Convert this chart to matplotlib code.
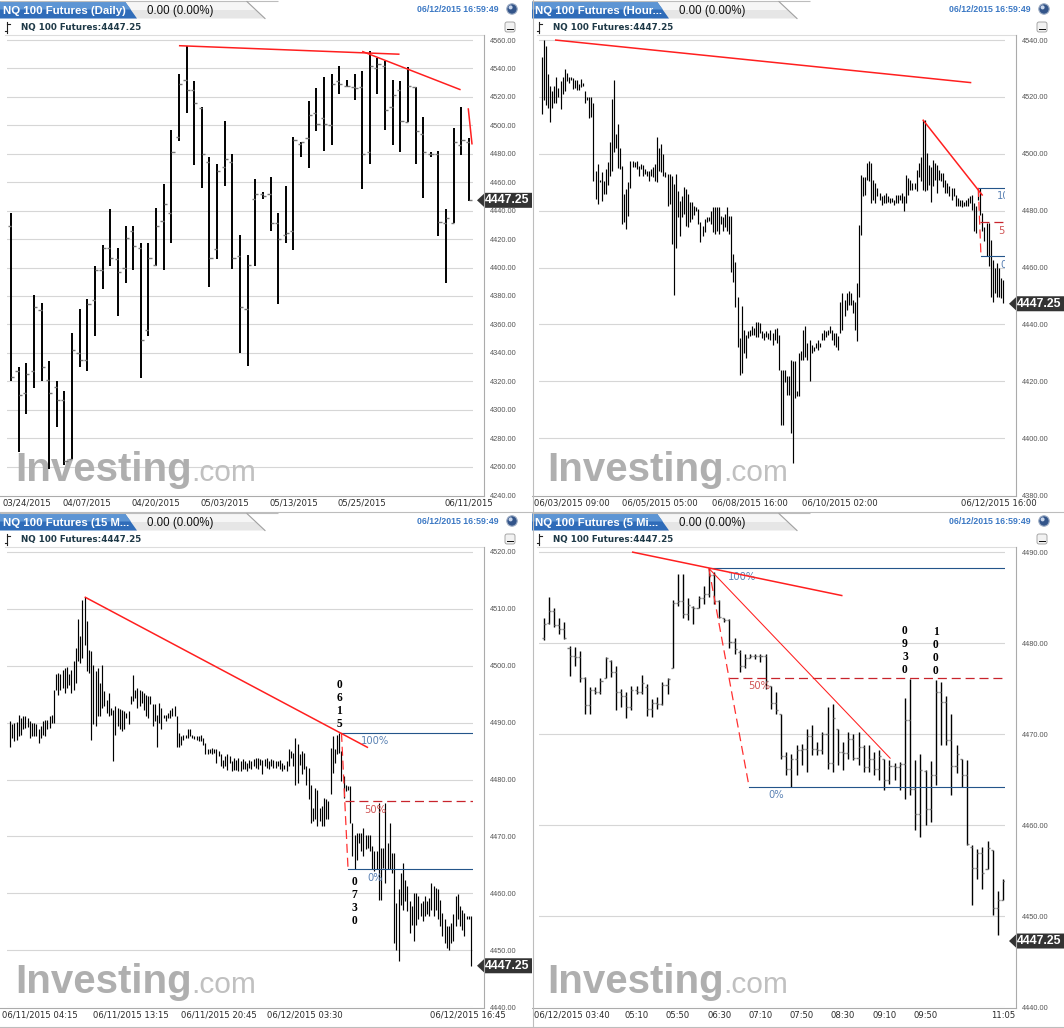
import numpy as np
import matplotlib.pyplot as plt
from matplotlib import transforms
from matplotlib.collections import LineCollection
from matplotlib.patches import Polygon, Circle, Rectangle, FancyBboxPatch

plt.rcParams['lines.scale_dashes'] = False

LAST = 4447.25
STAMP = '06/12/2015 16:59:49'

# ---------------- daily bars ----------------
daily_high = [4438, 4330, 4333, 4381, 4375, 4334, 4320, 4313, 4354, 4371,
              4378, 4401, 4416, 4441, 4414, 4429, 4429, 4417, 4417, 4442,
              4459, 4497, 4536, 4556, 4531, 4513, 4478, 4473, 4503, 4480,
              4423, 4409, 4462, 4453, 4464, 4438, 4457, 4492, 4488, 4517,
              4526, 4534, 4536, 4542, 4532, 4536, 4538, 4552, 4547, 4545,
              4532, 4531, 4541, 4527, 4506, 4481, 4482, 4441, 4498, 4513,
              4491]
daily_low = [4320, 4270, 4297, 4315, 4320, 4258, 4288, 4261, 4265, 4330,
             4327, 4352, 4385, 4401, 4366, 4389, 4398, 4322, 4352, 4401,
             4398, 4417, 4489, 4509, 4472, 4456, 4386, 4406, 4457, 4399,
             4340, 4331, 4401, 4448, 4426, 4374, 4417, 4412, 4478, 4470,
             4496, 4482, 4486, 4522, 4527, 4518, 4455, 4473, 4522, 4497,
             4486, 4481, 4502, 4473, 4449, 4478, 4422, 4389, 4431, 4479,
             4447]
daily_open = [4429, 4327, 4312, 4327, 4370, 4321, 4316, 4307, 4265, 4340,
              4335, 4377, 4398, 4414, 4406, 4400, 4426, 4414, 4356, 4402,
              4433, 4438, 4492, 4532, 4525, 4512, 4474, 4413, 4471, 4474,
              4408, 4371, 4448, 4452, 4452, 4431, 4423, 4426, 4487, 4491,
              4509, 4505, 4500, 4531, 4528, 4527, 4527, 4481, 4540, 4542,
              4513, 4525, 4502, 4527, 4494, 4480, 4480, 4431, 4431, 4486,
              4488]
daily_close = [4323, 4310, 4325, 4372, 4330, 4312, 4307, 4264, 4342, 4335,
               4374, 4398, 4414, 4407, 4397, 4421, 4415, 4349, 4407, 4429,
               4445, 4481, 4529, 4525, 4516, 4480, 4407, 4468, 4476, 4407,
               4372, 4402, 4452, 4450, 4431, 4420, 4424, 4490, 4488, 4507,
               4501, 4501, 4529, 4529, 4528, 4526, 4480, 4542, 4543, 4511,
               4521, 4503, 4528, 4496, 4481, 4480, 4432, 4435, 4488, 4490,
               4447.25]
daily_ticks = [10, 19, 28, 37, 46, 60]
daily_labels = ['04/07/2015', '04/20/2015', '05/03/2015', '05/13/2015', '05/25/2015', '06/11/2015']
daily_first = '03/24/2015'
daily_trends = [[(22, 4556), (50.9, 4550)], [(46, 4552), (58.9, 4525)], [(59.9, 4512), (60.4, 4486.5)]]

# ---------------- hourly bars ----------------
hourly_high = [4534, 4540, 4538, 4528, 4524, 4522, 4524, 4527, 4523, 4525.6,
               4527, 4529.7, 4528.5, 4527, 4527, 4526.8, 4526, 4525.8, 4524.7, 4526.2,
               4525, 4522, 4520, 4520, 4520, 4518, 4494, 4496.4, 4490.8, 4493.5,
               4490.5, 4494.6, 4497, 4504, 4519.4, 4525.8, 4507, 4510.4, 4502, 4495.8,
               4486, 4487.6, 4490, 4497.5, 4497.5, 4497, 4497.5, 4495.8, 4496.4, 4496,
               4494.6, 4494, 4494, 4494.6, 4495.2, 4496.4, 4506, 4502, 4503.6, 4500,
               4493.5, 4493, 4492.9, 4492.3, 4489.4, 4492.9, 4487, 4483.5, 4485.3, 4488.2,
               4487.6, 4486, 4483, 4483, 4481.8, 4481.2, 4480.6, 4475.9, 4474.7, 4477,
               4477.7, 4477.7, 4480, 4481.2, 4481.2, 4481.2, 4481.4, 4478.2, 4477.7, 4478.8,
               4481.2, 4478.2, 4478.2, 4464.8, 4462, 4449.8, 4435.2, 4446.5, 4438, 4436.3,
               4437.5, 4438, 4439.3, 4438.7, 4441, 4440.7, 4440.4, 4437.5, 4436.9, 4437.5,
               4436.9, 4438, 4436.9, 4438.3, 4438.7, 4436.3, 4424, 4423.8, 4424, 4421.7,
               4421.7, 4427.5, 4427, 4427, 4416.4, 4429.9, 4430.5, 4438, 4439.3, 4433.4,
               4434.6, 4432.8, 4432.2, 4433.4, 4434.6, 4433.6, 4436.9, 4437.9, 4437.5, 4438,
               4439.3, 4438, 4436.9, 4436.9, 4435.8, 4448, 4451, 4448.6, 4451, 4451.6,
               4451, 4448.6, 4448, 4454.5, 4475, 4492.6, 4492, 4492, 4496.7, 4497.3,
               4496.7, 4490.9, 4489.7, 4487.9, 4486.2, 4485, 4485.6, 4486.2, 4485, 4484.4,
               4484.4, 4483.8, 4485.6, 4485.6, 4485.6, 4486.2, 4485, 4492.6, 4491.4, 4490.9,
               4489.7, 4489.7, 4494.4, 4496.7, 4499, 4512, 4512, 4500.2, 4496.1, 4495.5,
               4497.9, 4496.7, 4496.1, 4494.4, 4493.2, 4493.2, 4490.9, 4489.7, 4488.5, 4487.9,
               4487.9, 4485.6, 4484.4, 4483.8, 4483.8, 4483.2, 4483.8, 4484.4, 4485, 4485.6,
               4482.6, 4481.5, 4487.9, 4487.9, 4479.1, 4474.4, 4475.6, 4475.6, 4469.8, 4462.7,
               4459.8, 4461.5, 4459.8, 4456.3, 4455.7]
hourly_low = [4514, 4519, 4517, 4516, 4511, 4516, 4518, 4518, 4520, 4515.7,
              4521, 4522, 4525.6, 4524.8, 4525.8, 4522.7, 4523, 4522.3, 4522.3, 4523.3,
              4524, 4518, 4519, 4512.4, 4513, 4490.5, 4484, 4482.3, 4490, 4483.5,
              4486, 4486, 4489, 4492.3, 4494, 4500.5, 4502, 4495, 4494.6, 4475.3,
              4476, 4473.6, 4478, 4488, 4495.2, 4495.2, 4494.6, 4492.3, 4494.6, 4492.3,
              4492.9, 4492.3, 4490.5, 4492.3, 4491.7, 4490.5, 4490, 4494, 4493.5, 4492.3,
              4491.7, 4481.8, 4482.3, 4468.3, 4450.2, 4467, 4477.7, 4471.2, 4477.7, 4478.8,
              4474.7, 4474.4, 4475.9, 4477, 4478.6, 4480, 4475.3, 4469, 4471, 4472.4,
              4475.9, 4476.5, 4475.3, 4472.4, 4471.8, 4473, 4471.8, 4475.3, 4473, 4474.1,
              4473, 4471.8, 4458.4, 4454.9, 4446, 4432.2, 4422.3, 4422.9, 4430, 4428.1,
              4435.2, 4435.8, 4436.3, 4436.3, 4435.5, 4435.5, 4437, 4435.2, 4434.6, 4435.5,
              4434.8, 4434.6, 4432.8, 4434.6, 4433.4, 4424, 4404.7, 4404.7, 4419.9, 4415.2,
              4415.2, 4401.8, 4391.2, 4414, 4414.7, 4414.7, 4427.5, 4427.5, 4428.7, 4427.5,
              4420, 4429.9, 4430.5, 4431.7, 4431.1, 4432.2, 4434.6, 4434.6, 4435.5, 4436.3,
              4436.9, 4434.6, 4432.8, 4432.2, 4431.1, 4436.9, 4438.1, 4442.8, 4445.1, 4446.9,
              4446.9, 4444, 4438.1, 4434, 4449.8, 4471.5, 4485, 4485.6, 4490.9, 4490.3,
              4482.6, 4483.8, 4482.6, 4485, 4483.8, 4482.1, 4482.6, 4482.6, 4483.2, 4482.6,
              4483.2, 4482.1, 4482.6, 4482.6, 4483.8, 4482.6, 4479.7, 4482.6, 4485.6, 4487.3,
              4487.1, 4487.6, 4486.8, 4492, 4490.3, 4487.3, 4486.8, 4487.3, 4489.1, 4483.2,
              4488.5, 4490.9, 4486.2, 4490.9, 4490.3, 4488.3, 4486.2, 4486.2, 4485, 4483.8,
              4485, 4481.5, 4481.5, 4481.5, 4481.2, 4481.5, 4481.5, 4481.5, 4482.6, 4480.3,
              4472.7, 4472.1, 4483.8, 4478.5, 4472.7, 4469.2, 4463.9, 4460.4, 4449.8, 4448,
              4450.9, 4449.8, 4449.8, 4449.2, 4447.5]
hourly_ticks = [57.3, 101, 144.8, 222]
hourly_labels = ['06/05/2015 05:00', '06/08/2015 16:00', '06/10/2015 02:00', '06/12/2015 16:00']
hourly_first = '06/03/2015 09:00'
hourly_trends = [[(6.3, 4540), (208.6, 4525)], [(185, 4512), (214.1, 4485.3)]]
hourly_fib = [(212, 4488.0), (213.3, 4464.0)]

# ---------------- 15 minute bars ----------------
m15_high = [4490.2, 4489.7, 4490.0, 4490.1, 4491.4, 4490.8, 4491.2, 4491.2, 4490.8, 4490.2,
            4490.0, 4490.0, 4489.7, 4488.8, 4489.4, 4490.2, 4490.4, 4490.5, 4491.1, 4491.4,
            4495.8, 4498.5, 4498.7, 4498.5, 4499.3, 4499.6, 4499.7, 4498.5, 4499.3, 4500.8,
            4503.1, 4508.2, 4505.2, 4511.6, 4512.1, 4507.8, 4502.8, 4502.6, 4500.2, 4499.0,
            4499.6, 4497.0, 4500.2, 4495.5, 4494.0, 4495.2, 4492.6, 4492.3, 4492.9, 4492.6,
            4492.4, 4492.3, 4492.0, 4491.7, 4492.0, 4494.6, 4498.3, 4495.8, 4496.1, 4495.8,
            4495.5, 4495.2, 4494.9, 4494.6, 4494.6, 4493.2, 4493.2, 4491.4, 4493.5, 4492.6,
            4491.4, 4491.4, 4491.7, 4492.3, 4492.6, 4492.9, 4491.1, 4488.2, 4487.6, 4487.9,
            4487.9, 4488.9, 4488.8, 4487.9, 4487.6, 4487.6, 4487.7, 4487.9, 4487.3, 4486.4,
            4485.3, 4485.4, 4485.6, 4485.4, 4485.3, 4485.0, 4484.4, 4483.5, 4484.1, 4484.4,
            4484.1, 4483.2, 4483.8, 4483.5, 4483.8, 4483.2, 4483.6, 4483.2, 4482.9, 4483.5,
            4483.2, 4483.6, 4483.8, 4483.8, 4483.6, 4483.5, 4483.6, 4483.8, 4483.2, 4483.6,
            4483.5, 4483.2, 4483.2, 4483.5, 4482.9, 4482.6, 4483.2, 4485.3, 4485.0, 4484.7,
            4487.3, 4486.2, 4484.4, 4485.0, 4484.7, 4482.3, 4482.0, 4479.1, 4475.0, 4478.5,
            4478.2, 4475.0, 4475.3, 4476.8, 4476.5, 4476.2, 4485.6, 4487.6, 4485.3, 4487.9,
            4488.2, 4485.0, 4480.6, 4479.1, 4478.8, 4478.8, 4472.4, 4470.3, 4470.6, 4470.6,
            4470.6, 4471.5, 4470.3, 4470.3, 4470.3, 4468.3, 4467.4, 4467.4, 4475.9, 4468.0,
            4468.0, 4475.9, 4468.9, 4472.4, 4467.1, 4467.1, 4458.3, 4460.7, 4463.6, 4465.3,
            4462.4, 4461.2, 4458.6, 4457.7, 4460.1, 4460.1, 4459.5, 4458.3, 4458.6, 4459.5,
            4458.6, 4459.2, 4461.8, 4461.2, 4460.9, 4460.7, 4458.9, 4456.6, 4455.4, 4454.2,
            4454.2, 4454.8, 4456.3, 4459.5, 4459.8, 4457.7, 4457.1, 4456.6, 4456.0, 4456.0,
            4456.0]
m15_low = [4485.8, 4487.3, 4486.7, 4487.0, 4487.6, 4487.9, 4488.8, 4489.1, 4489.3, 4487.3,
           4487.6, 4487.6, 4487.6, 4486.4, 4487.3, 4487.9, 4487.7, 4488.8, 4489.1, 4490.0,
           4490.0, 4495.8, 4494.9, 4495.8, 4496.1, 4495.2, 4496.1, 4496.7, 4495.2, 4495.8,
           4497.0, 4500.8, 4500.5, 4501.4, 4503.7, 4499.0, 4498.7, 4487.0, 4489.7, 4489.4,
           4491.1, 4491.1, 4492.6, 4492.9, 4491.7, 4491.1, 4491.4, 4483.2, 4487.9, 4489.4,
           4488.8, 4488.5, 4488.8, 4490.8, 4489.7, 4493.2, 4493.8, 4494.3, 4492.6, 4492.9,
           4493.5, 4492.3, 4491.1, 4490.8, 4493.2, 4489.4, 4490.2, 4485.8, 4490.0, 4488.8,
           4490.8, 4490.2, 4490.8, 4490.8, 4491.1, 4491.1, 4485.8, 4485.8, 4486.1, 4487.0,
           4487.3, 4487.3, 4487.6, 4487.3, 4487.1, 4487.0, 4486.7, 4486.7, 4486.1, 4484.4,
           4484.4, 4484.7, 4484.4, 4484.7, 4482.9, 4484.1, 4482.3, 4482.0, 4482.3, 4481.7,
           4482.9, 4481.5, 4481.7, 4481.7, 4481.5, 4481.5, 4481.8, 4481.8, 4481.5, 4482.0,
           4481.8, 4482.3, 4482.0, 4481.8, 4482.5, 4480.9, 4482.3, 4482.0, 4481.8, 4482.3,
           4482.0, 4482.0, 4482.3, 4481.8, 4481.5, 4481.8, 4481.5, 4482.3, 4483.8, 4482.3,
           4479.1, 4479.4, 4482.6, 4480.9, 4481.8, 4479.1, 4476.5, 4472.4, 4472.7, 4473.0,
           4471.9, 4472.7, 4471.9, 4471.8, 4473.0, 4473.0, 4477.4, 4481.2, 4482.9, 4484.4,
           4484.7, 4479.7, 4476.8, 4477.9, 4478.2, 4472.4, 4466.5, 4464.2, 4465.9, 4468.9,
           4467.4, 4466.5, 4467.7, 4468.0, 4467.4, 4464.2, 4463.9, 4464.2, 4458.9, 4458.9,
           4464.5, 4461.8, 4464.2, 4464.2, 4463.6, 4451.3, 4450.1, 4448.1, 4458.0, 4457.1,
           4458.6, 4456.8, 4453.0, 4454.5, 4451.6, 4454.5, 4455.4, 4456.0, 4455.1, 4456.0,
           4456.3, 4456.0, 4457.1, 4456.0, 4457.1, 4455.4, 4454.2, 4452.5, 4451.3, 4450.4,
           4450.1, 4451.3, 4451.6, 4454.2, 4455.4, 4454.2, 4453.6, 4452.5, 4455.4, 4455.4,
           4447.2]
m15_ticks = [55, 95, 134.4, 208.7]
m15_labels = ['06/11/2015 13:15', '06/11/2015 20:45', '06/12/2015 03:30', '06/12/2015 16:45']
m15_first = '06/11/2015 04:15'
m15_trends = [[(34, 4512.1), (163.1, 4485.6)]]
m15_fib = [(151, 4488.2), (154, 4464.2)]
m15_notes = [('0615', 150, 4488.2, 'above'), ('0730', 157, 4464.2, 'below')]

# ---------------- 5 minute bars ----------------
m5_high = [4482.7, 4485.1, 4483.8, 4482.7, 4482.3, 4479.7, 4479.6, 4479.1, 4476.3, 4475.2,
           4475.2, 4476.2, 4478.5, 4478.1, 4477.5, 4475.0, 4474.6, 4475.3, 4475.3, 4476.5,
           4475.5, 4473.9, 4474.1, 4475.7, 4476.1, 4484.7, 4487.6, 4487.6, 4484.9, 4484.1,
           4485.2, 4486.3, 4488.2, 4487.8, 4484.7, 4482.7, 4482.6, 4480.5, 4479.2, 4478.8,
           4478.8, 4478.8, 4478.8, 4478.8, 4475.3, 4474.6, 4472.2, 4468.0, 4467.8, 4468.8,
           4468.9, 4470.6, 4471.0, 4469.1, 4470.2, 4473.0, 4473.3, 4470.6, 4469.1, 4470.2,
           4470.0, 4470.2, 4468.8, 4468.8, 4468.0, 4468.2, 4467.3, 4467.1, 4466.8, 4466.9,
           4474.0, 4476.0, 4467.1, 4467.8, 4466.0, 4467.0, 4475.9, 4475.7, 4474.2, 4472.2,
           4468.8, 4467.3, 4467.1, 4457.8, 4457.4, 4457.6, 4458.2, 4457.3, 4452.7, 4454.1]
m5_low = [4480.3, 4482.1, 4481.8, 4481.0, 4480.4, 4476.4, 4477.5, 4475.7, 4472.2, 4472.2,
          4474.4, 4474.4, 4476.1, 4476.3, 4472.6, 4473.0, 4471.8, 4472.6, 4474.4, 4474.4,
          4472.0, 4471.9, 4472.8, 4473.2, 4474.4, 4477.2, 4484.1, 4482.7, 4482.5, 4482.1,
          4483.8, 4484.3, 4485.1, 4484.3, 4482.7, 4482.3, 4479.4, 4478.8, 4476.8, 4477.2,
          4478.3, 4478.2, 4477.9, 4475.0, 4472.8, 4472.2, 4467.3, 4465.5, 4464.2, 4465.5,
          4466.6, 4465.8, 4467.7, 4467.7, 4467.8, 4466.2, 4465.8, 4466.6, 4466.0, 4467.3,
          4467.1, 4466.6, 4465.8, 4465.8, 4465.5, 4465.0, 4463.8, 4464.5, 4465.0, 4463.8,
          4462.9, 4463.3, 4459.5, 4458.7, 4460.0, 4460.3, 4464.4, 4468.8, 4468.8, 4463.3,
          4465.7, 4464.2, 4457.8, 4451.2, 4454.1, 4453.0, 4455.2, 4450.1, 4447.9, 4451.8]
m5_open = [4480.5, 4482.2, 4483.5, 4482.0, 4481.5, 4479.5, 4478.6, 4478.5, 4476.2, 4473.2,
           4474.8, 4474.6, 4476.1, 4478.0, 4476.8, 4474.6, 4474.2, 4473.0, 4474.8, 4474.6,
           4475.2, 4472.8, 4473.4, 4473.3, 4475.4, 4477.2, 4484.4, 4484.6, 4483.2, 4484.0,
           4483.9, 4484.9, 4485.4, 4487.5, 4484.6, 4482.7, 4482.5, 4480.1, 4479.0, 4477.5,
           4478.4, 4478.6, 4478.6, 4478.6, 4475.3, 4473.4, 4472.2, 4467.6, 4466.2, 4467.3,
           4468.2, 4468.4, 4469.8, 4468.4, 4468.2, 4470.0, 4466.8, 4470.5, 4468.0, 4467.9,
           4469.5, 4467.4, 4468.6, 4466.4, 4467.3, 4466.1, 4467.3, 4465.0, 4466.5, 4466.4,
           4466.7, 4471.5, 4464.0, 4461.2, 4465.9, 4461.8, 4465.5, 4474.6, 4473.5, 4469.3,
           4466.5, 4467.3, 4465.5, 4457.6, 4455.3, 4456.9, 4455.2, 4457.2, 4450.9, 4451.8]
m5_close = [4482.1, 4483.5, 4482.0, 4481.5, 4480.5, 4478.6, 4478.5, 4476.2, 4473.2, 4474.8,
            4474.6, 4475.8, 4478.3, 4476.8, 4474.6, 4474.2, 4473.0, 4474.8, 4474.6, 4475.6,
            4472.8, 4473.4, 4473.3, 4475.4, 4476.0, 4484.4, 4484.6, 4483.2, 4484.2, 4483.9,
            4484.9, 4485.4, 4487.5, 4484.6, 4482.9, 4482.5, 4480.1, 4479.3, 4477.5, 4478.4,
            4478.6, 4478.6, 4478.6, 4475.8, 4473.4, 4472.6, 4467.6, 4466.2, 4467.3, 4468.2,
            4468.4, 4469.8, 4468.4, 4468.2, 4470.0, 4466.8, 4471.8, 4468.0, 4467.9, 4469.5,
            4467.4, 4468.6, 4466.4, 4467.3, 4466.1, 4467.6, 4465.0, 4466.5, 4466.4, 4466.7,
            4471.5, 4464.0, 4461.2, 4466.0, 4461.8, 4465.5, 4474.6, 4473.5, 4469.3, 4466.5,
            4467.8, 4465.5, 4457.9, 4455.3, 4456.9, 4454.7, 4457.5, 4450.9, 4451.8, 4453.9]
m5_ticks = [18, 26, 34, 42, 50, 58, 66, 74, 89]
m5_labels = ['05:10', '05:50', '06:30', '07:10', '07:50', '08:30', '09:10', '09:50', '11:05']
m5_first = '06/12/2015 03:40'
m5_trends = [[(17.1, 4490), (57.9, 4485.2)]]
m5_thin_trend = [(32, 4488.2), (67.2, 4467.3)]
m5_fib = [(32, 4488.2), (39.8, 4464.2)]
m5_notes = [('0930', 70, 4476.0, 'above'), ('1000', 76, 4475.9, 'above')]

# ---------------- layout ----------------
W, H = 1064, 1028
PW, PH = 532, 514
fig = plt.figure(figsize=(W / 100, H / 100), dpi=100)
fig.patch.set_facecolor('white')

RED = '#ff1f1f'
FIB_BLUE = '#24558a'
FIB_RED = '#c8242c'


def frac(x, y, w, h):
    return [x / W, 1 - (y + h) / H, w / W, h / H]


def header(pax, title):
    pax.plot([0, 278], [1.2, 1.2], color='#bdbdbd', lw=0.8, solid_capstyle='butt')
    pax.add_patch(Polygon([(120, 1.6), (247, 1.6), (265, 18.5), (120, 18.5)], fc='#e6e6e6', ec='none'))
    pax.add_patch(Polygon([(120, 1.6), (247, 1.6), (256, 10), (120, 10)], fc='#f6f6f6', ec='none'))
    pax.plot([247, 265], [1.6, 18.5], color='#a0a0a0', lw=0.8)
    pax.add_patch(Polygon([(0, 1.6), (125, 1.6), (137, 18.5), (0, 18.5)], fc='#2f6cb9', ec='none'))
    pax.add_patch(Polygon([(0, 1.6), (125, 1.6), (130.9, 9.5), (0, 9.5)], fc='#5d95d4', ec='none'))
    pax.text(3, 10.5, title, color='white', fontsize=8.2, fontweight='bold',
             family='Liberation Sans', va='center', ha='left')
    pax.text(147, 11, '0.00 (0.00%)', color='#111111', fontsize=8.3,
             family='Liberation Sans', va='center', ha='left')
    pax.text(499, 9.5, STAMP, color='#3b78c4', fontsize=6.3, fontweight='bold',
             family='Liberation Sans', va='center', ha='right')
    pax.add_patch(Circle((512, 9), 5.2, fc='#33558a', ec='#9aaac2', lw=0.8))
    pax.add_patch(Circle((510.6, 7.4), 2.0, fc='#c9d7ec', ec='none'))
    # sub header
    pax.plot([7, 7], [22, 32.5], color='#222222', lw=0.8)
    pax.plot([4.5, 7], [31, 31], color='#222222', lw=0.8)
    pax.plot([7, 9.5], [23.5, 23.5], color='#222222', lw=0.8)
    pax.text(21, 27.5, 'NQ 100 Futures:%.2f' % LAST, color='#1e3947', fontsize=6.3,
             fontweight='bold', va='center', ha='left')
    pax.add_patch(FancyBboxPatch((505, 22), 10, 10, boxstyle='round,pad=0,rounding_size=2',
                                 fc='#f2f2f2', ec='#9a9a9a', lw=0.6))
    pax.add_patch(Rectangle((506.5, 28.6), 7, 1.8, fc='#111111', ec='none'))
    # plot frame
    pax.plot([5, 483.5], [34.5, 34.5], color='#dddddd', lw=0.8)
    pax.plot([483.5, 483.5], [34.5, 495.5], color='#ababab', lw=0.8)
    pax.plot([0, 483.5], [495.5, 495.5], color='#ababab', lw=0.8)


def panel(ox, oy, title, yticks, n, x0, xlast, first, ticks, labels):
    pax = fig.add_axes(frac(ox, oy, PW, PH), zorder=0)
    pax.set_xlim(0, PW)
    pax.set_ylim(PH, 0)
    pax.axis('off')
    header(pax, title)

    ax = fig.add_axes(frac(ox + 7, oy + 37, 466, 458), zorder=1)
    ax.set_facecolor('white')
    s = (xlast - x0) / (n - 1)
    ax.set_xlim((7 - x0) / s, (473 - x0) / s)
    lo, hi = yticks[0], yticks[-1]
    ppx = 455 / (hi - lo)
    ax.set_ylim(lo, hi + 3 / ppx)
    ax.set_yticks(yticks)
    ax.set_yticklabels(['%.2f' % v for v in yticks])
    ax.yaxis.tick_right()
    ax.tick_params(axis='y', length=0, pad=12.2, labelsize=5.3, labelcolor='#555555')
    for lab in ax.get_yticklabels():
        lab.set_family('Liberation Sans')
    ax.set_xticks([])
    ax.grid(axis='y', color='#d6d6d6', lw=0.8)
    ax.set_axisbelow(True)
    for sp in ax.spines.values():
        sp.set_visible(False)

    # x labels
    ya = (495 - 503) / 458
    ax.text((2.5 - 7) / 466, ya, first, transform=ax.transAxes, ha='left', va='center',
            fontsize=6.1, color='#2a2a2a', clip_on=False)
    tr = transforms.blended_transform_factory(ax.transData, ax.transAxes)
    for p, lab in zip(ticks, labels):
        ax.text(p, ya, lab, transform=tr, ha='center', va='center', fontsize=6.1,
                color='#2a2a2a', clip_on=False)

    # watermark
    yb = (495 - 481) / 458
    inv = ax.text((15 - 7) / 466, yb, 'Investing', transform=ax.transAxes, fontsize=29,
                  fontweight='bold', family='Liberation Sans', color='#afafaf',
                  va='baseline', ha='left', zorder=0.6)
    ax.annotate('.com', xy=(1, yb), xycoords=(inv, 'axes fraction'), fontsize=21.5,
                family='Liberation Sans', color='#c0c0c0', va='baseline', ha='left', zorder=0.6)

    # last price tag
    ttr = transforms.blended_transform_factory(pax.transData, ax.transData)
    hh = 7.5 / ppx
    pax.add_patch(Polygon([(477, LAST), (485, LAST + hh), (534, LAST + hh), (534, LAST - hh),
                           (485, LAST - hh)], closed=True, transform=ttr, fc='#333333', ec='none'))
    pax.text(485, LAST, '%.2f' % LAST, transform=ttr, color='white', fontsize=8.8,
             fontweight='bold', family='Liberation Sans', va='center', ha='left', clip_on=True)
    return ax


def ohlc(ax, high, low, opn=None, close=None, lw=1.1, tick=0.4):
    x = np.arange(len(high))
    segs = [[(i, l), (i, h)] for i, h, l in zip(x, high, low)]
    ax.add_collection(LineCollection(segs, colors='black', linewidths=lw, zorder=3))
    if opn is not None:
        ts = [[(i - tick, o), (i, o)] for i, o in zip(x, opn)]
        ts += [[(i, c), (i + tick, c)] for i, c in zip(x, close)]
        ax.add_collection(LineCollection(ts, colors='#7a7a7a', linewidths=1.0, zorder=3.5))


def trend(ax, pts, lw=1.1, color=RED):
    ax.plot([p[0] for p in pts], [p[1] for p in pts], color=color, lw=lw, zorder=5,
            solid_capstyle='butt')


def fib(ax, a, b):
    (xa, pa), (xb, pb) = a, b
    xr = ax.get_xlim()[1]
    xm, pm = (xa + xb) / 2, (pa + pb) / 2
    ax.plot([xa, xr], [pa, pa], color=FIB_BLUE, lw=0.8, zorder=4)
    ax.plot([xm, xr], [pm, pm], color=FIB_RED, lw=0.9, dashes=(6.5, 3.5), zorder=4)
    ax.plot([xb, xr], [pb, pb], color=FIB_BLUE, lw=0.8, zorder=4)
    ax.plot([xa, xb], [pa, pb], color='#ff3030', lw=0.9, dashes=(6.5, 3.5), zorder=4)
    off = transforms.offset_copy(ax.transData, fig=fig, x=19, y=-8.5, units='dots')
    for x, p, lab, c in [(xa, pa, '100%', '#5b82b4'), (xm, pm, '50%', '#d05555'),
                         (xb, pb, '0%', '#5b82b4')]:
        ax.text(x, p, lab, transform=off, color=c, fontsize=7.2, ha='left', va='center',
                clip_on=True, zorder=4)


def note(ax, text, x, p, where):
    for k, d in enumerate(text):
        if where == 'above':
            off = 9 + (len(text) - 1 - k) * 13
        else:
            off = -(12.3 + k * 13)
        ax.annotate(d, xy=(x, p), xytext=(0, off * 0.72), textcoords='offset points',
                    ha='center', va='center', fontsize=8.3, fontweight='bold',
                    family='Liberation Serif', color='black', annotation_clip=False, zorder=6)


# ---- daily (top left)
ax1 = panel(0, 0, 'NQ 100 Futures (Daily)', list(range(4240, 4561, 20)),
            len(daily_high), 11, 469, daily_first, daily_ticks, daily_labels)
ohlc(ax1, daily_high, daily_low, daily_open, daily_close, lw=1.4, tick=0.42)
for t in daily_trends:
    trend(ax1, t)

# ---- hourly (top right)
ax2 = panel(532, 0, 'NQ 100 Futures (Hour...', list(range(4380, 4541, 20)),
            len(hourly_high), 10, 471, hourly_first, hourly_ticks, hourly_labels)
ohlc(ax2, hourly_high, hourly_low, lw=0.85)
for t in hourly_trends:
    trend(ax2, t)
fib(ax2, *hourly_fib)

# ---- 15 minute (bottom left)
ax3 = panel(0, 512, 'NQ 100 Futures (15 M...', list(range(4440, 4521, 10)),
            len(m15_high), 10, 471, m15_first, m15_ticks, m15_labels)
ohlc(ax3, m15_high, m15_low, lw=0.85)
for t in m15_trends:
    trend(ax3, t)
fib(ax3, *m15_fib)
for t, x, p, w in m15_notes:
    note(ax3, t, x, p, w)

# ---- 5 minute (bottom right)
ax4 = panel(532, 512, 'NQ 100 Futures (5 Mi...', list(range(4440, 4491, 10)),
            len(m5_high), 11.7, 471, m5_first, m5_ticks, m5_labels)
ohlc(ax4, m5_high, m5_low, m5_open, m5_close, lw=1.0, tick=0.4)
for t in m5_trends:
    trend(ax4, t)
trend(ax4, m5_thin_trend, lw=0.75)
fib(ax4, *m5_fib)
for t, x, p, w in m5_notes:
    note(ax4, t, x, p, w)

# panel borders
bax = fig.add_axes([0, 0, 1, 1], zorder=10)
bax.set_xlim(0, W)
bax.set_ylim(H, 0)
bax.axis('off')
bax.plot([532.5, 532.5], [0, H], color='#bdbdbd', lw=0.8)
bax.plot([0, W], [511.5, 511.5], color='#bdbdbd', lw=0.8)
bax.plot([0, W], [1026.5, 1026.5], color='#bdbdbd', lw=0.8)

fig.savefig('out.png', dpi=100, facecolor='white')
